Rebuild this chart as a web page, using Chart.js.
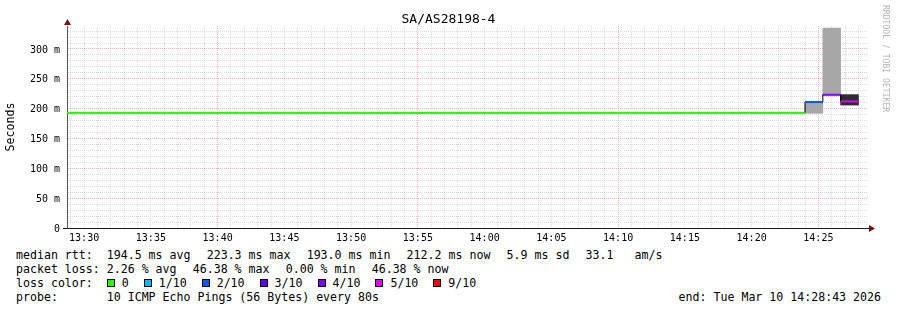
<!DOCTYPE html>
<html>
<head>
<meta charset="utf-8">
<script src="https://cdn.jsdelivr.net/npm/chart.js@4.4.1/dist/chart.umd.min.js"></script>
<style>
  body { margin: 0; background: #fff; }
  #wrap { position: relative; width: 897px; height: 310px; background: #fff; font-family: "DejaVu Sans Mono", monospace; color: #000; overflow: hidden; }
  #c { position: absolute; left: 0; top: 0; }
  #title { position: absolute; left: 0; top: 11px; width: 897px; text-align: center; font-size: 13px; line-height: 16px; }
  #mark { position: absolute; left: 881px; top: 5px; writing-mode: vertical-rl; font-size: 8.1px; line-height: 10px; color: #b4b4b4; }
  .ln { position: absolute; left: 16px; font-size: 11.6px; line-height: 14px; white-space: pre; }
  #endtxt { position: absolute; right: 16px; top: 290px; font-size: 11.6px; line-height: 14px; white-space: pre; }
  .gap { display: inline-block; width: 16.2px; }
  .box { display: inline-block; width: 6px; height: 6px; border: 1px solid #000; margin-right: 7px; }
</style>
</head>
<body>
<div id="wrap">
  <canvas id="c" width="897" height="245"></canvas>
  <div id="title"></div>
  <div id="mark">RRDTOOL / TOBI OETIKER</div>
  <div class="ln" id="l1" style="top:248px"></div>
  <div class="ln" id="l2" style="top:262px"></div>
  <div class="ln" id="l3" style="top:276px"></div>
  <div class="ln" id="l4" style="top:290px"></div>
  <div id="endtxt"></div>
</div>
<script>
const chartTitle = "SA/AS28198-4";
const endTime = "14:28:43";
const firstSampleStart = "13:28:00";
const stepSec = 80;

// median rtt of each 80 s sample, ms
const median = [
    193.0, 193.0, 193.0, 193.0, 193.0, 193.0, 193.0, 193.0, 193.0, 193.0, 193.0, 193.0, 193.0, 193.0,
    193.0, 193.0, 193.0, 193.0, 193.0, 193.0, 193.0, 193.0, 193.0, 193.0, 193.0, 193.0, 193.0, 193.0,
    193.0, 193.0, 193.0, 193.0, 193.0, 193.0, 193.0, 193.0, 193.0, 193.0, 193.0, 193.0, 193.0, 193.0,
    211.0, 223.3, 212.2
];
// packet loss of each sample, %
const loss = [
    0, 0, 0, 0, 0, 0, 0, 0, 0, 0, 0, 0, 0, 0,
    0, 0, 0, 0, 0, 0, 0, 0, 0, 0, 0, 0, 0, 0,
    0, 0, 0, 0, 0, 0, 0, 0, 0, 0, 0, 0, 0, 0,
    19.0, 36.32, 46.38
];

// smoke (spread of the single pings) for the last samples, [low, high] ms
const smokeStarts = ["14:24:00", "14:25:20", "14:26:40"];
const smokeLight = [[192.2, 211.0], [223.3, 335.0], null];
const smokeMid = [null, null, [201.0, 223.5]];
const smokeDark = [null, null, [206.0, 223.5]];

const xTickLabels = ["13:30", "13:35", "13:40", "13:45", "13:50", "13:55", "14:00", "14:05", "14:10", "14:15", "14:20", "14:25"];
const xMajorGrid = ["13:40", "13:55", "14:10", "14:25"];
const yTickValues = [0, 50, 100, 150, 200, 250, 300];
const yTickLabels = ["0", "50 m", "100 m", "150 m", "200 m", "250 m", "300 m"];
const yMax = 338.5;

const lossLabels = ["0", "1/10", "2/10", "3/10", "4/10", "5/10", "9/10"];
const lossUpper = [0, 10, 20, 30, 40, 50, 100];
const lossColors = ["#26ff00", "#00b8ff", "#0059ff", "#5e00ff", "#7e00ff", "#dd00ff", "#ff0000"];

const rttStats = ["194.5 ms avg", "223.3 ms max", "193.0 ms min", "212.2 ms now", "5.9 ms sd", "33.1   am/s"];
const lossStats = ["2.26 % avg", "46.38 % max", "0.00 % min", "46.38 % now"];
const probeText = "10 ICMP Echo Pings (56 Bytes) every 80s";
const endText = "end: Tue Mar 10 14:28:43 2026";

function toSec(s) {
    const p = s.split(":").map(Number);
    return p[0] * 3600 + p[1] * 60 + (p[2] || 0);
}
function hhmm(v) {
    const h = Math.floor(v / 3600), m = Math.floor((v % 3600) / 60);
    return String(h).padStart(2, "0") + ":" + String(m).padStart(2, "0");
}
function lossColor(l) {
    for (let i = 0; i < lossUpper.length; i++) if (l <= lossUpper[i]) return lossColors[i];
    return lossColors[lossColors.length - 1];
}

const xMax = toSec(endTime);
const xMin = xMax - 3600;
const t0 = toSec(firstSampleStart);

// each sample as a flat piece from its start to its end
const medianPts = [];
median.forEach((m, i) => {
    const s = t0 + i * stepSec;
    medianPts.push({ x: s, y: m }, { x: s + stepSec, y: m });
});

function smokeSet(arr, color, order) {
    return {
        type: "bar",
        data: smokeStarts.map((s, i) => ({ x: toSec(s) + stepSec / 2, y: arr[i] })),
        backgroundColor: color, borderWidth: 0, stack: "smoke",
        barThickness: "flex", barPercentage: 1, categoryPercentage: 1, order: order
    };
}

// arrow heads at the ends of the axes
const axisArrows = {
    id: "axisArrows",
    afterDraw(chart) {
        const { ctx, chartArea: a } = chart;
        ctx.save();
        ctx.fillStyle = "#7a1010";
        ctx.beginPath();
        ctx.moveTo(a.left - 3, a.top - 1);
        ctx.lineTo(a.left + 4, a.top - 1);
        ctx.lineTo(a.left + 0.5, a.top - 7);
        ctx.closePath();
        ctx.fill();
        ctx.beginPath();
        ctx.moveTo(a.right + 1, a.bottom - 3);
        ctx.lineTo(a.right + 1, a.bottom + 4);
        ctx.lineTo(a.right + 7, a.bottom + 0.5);
        ctx.closePath();
        ctx.fill();
        ctx.restore();
    }
};

Chart.defaults.font.family = "'DejaVu Sans Mono', monospace";
Chart.defaults.color = "#000";

const minorGrid = "rgba(200,200,200,0.65)";
const majorGrid = "rgba(240,110,110,0.55)";

new Chart(document.getElementById("c"), {
    type: "line",
    data: {
        datasets: [
            {
                data: medianPts, borderWidth: 2, borderColor: lossColors[0], pointRadius: 0, tension: 0, clip: 0, order: 0,
                segment: {
                    borderColor: ctx => ctx.p0DataIndex % 2 === 0 ? lossColor(loss[ctx.p0DataIndex >> 1]) : "rgba(0,0,0,0)"
                }
            },
            { data: medianPts, borderWidth: 1, borderColor: "#000", pointRadius: 0, tension: 0, clip: 0, order: 1 },
            smokeSet(smokeDark, "#2e2e2e", 2),
            smokeSet(smokeMid, "#6c6c6c", 3),
            smokeSet(smokeLight, "#a7a7a7", 4)
        ]
    },
    options: {
        responsive: false,
        devicePixelRatio: 1,
        animation: false,
        layout: { padding: { top: 26, right: 29, bottom: 0, left: 0 } },
        plugins: { legend: { display: false }, tooltip: { enabled: false }, title: { display: false } },
        scales: {
            x: {
                type: "linear", min: xMin, max: xMax, offset: false,
                afterBuildTicks: scale => {
                    const t = [];
                    for (let v = Math.ceil(xMin / 60) * 60; v <= xMax; v += 60) t.push({ value: v });
                    scale.ticks = t;
                },
                afterFit: scale => { scale.height = 17; },
                ticks: {
                    autoSkip: false, maxRotation: 0, padding: 4, font: { size: 10 },
                    callback: v => xTickLabels.includes(hhmm(v)) ? hhmm(v) : ""
                },
                grid: {
                    offset: false,
                    drawTicks: false,
                    color: ctx => xMajorGrid.includes(hhmm(ctx.tick ? ctx.tick.value : 0)) ? majorGrid : minorGrid
                },
                border: { color: "#1a1a1a", dash: [1, 1] }
            },
            y: {
                min: 0, max: yMax,
                afterBuildTicks: scale => {
                    const t = [];
                    for (let v = 0; v < yMax; v += 10) t.push({ value: v });
                    scale.ticks = t;
                },
                afterFit: scale => { scale.width = 67; },
                ticks: {
                    autoSkip: false, padding: 3, labelOffset: 1, font: { size: 10 },
                    callback: v => { const i = yTickValues.indexOf(v); return i >= 0 ? yTickLabels[i] : ""; }
                },
                grid: {
                    tickLength: 4,
                    tickColor: ctx => ctx.tick && ctx.tick.value === 0 ? "#1a1a1a" : "rgba(0,0,0,0)",
                    color: ctx => yTickValues.includes(ctx.tick ? ctx.tick.value : 1) ? majorGrid : minorGrid
                },
                border: { color: "#555", dash: [1, 1] },
                title: { display: true, text: "Seconds", font: { size: 11.6 }, padding: { top: 4, bottom: 0 } }
            }
        }
    },
    plugins: [axisArrows]
});

const gap = '<span class="gap"></span>';
document.getElementById("title").textContent = chartTitle;
document.getElementById("l1").innerHTML = "median rtt:  " + rttStats.join(gap);
document.getElementById("l2").innerHTML = "packet loss: " + lossStats.join(gap);
document.getElementById("l3").innerHTML = "loss color:  " + lossLabels.map((lab, i) =>
    `<span class="box" style="background:${lossColors[i]}${i ? ";margin-left:15px" : ""}"></span>${lab}`).join("");
document.getElementById("l4").textContent = "probe:       " + probeText;
document.getElementById("endtxt").textContent = endText;
</script>
</body>
</html>
